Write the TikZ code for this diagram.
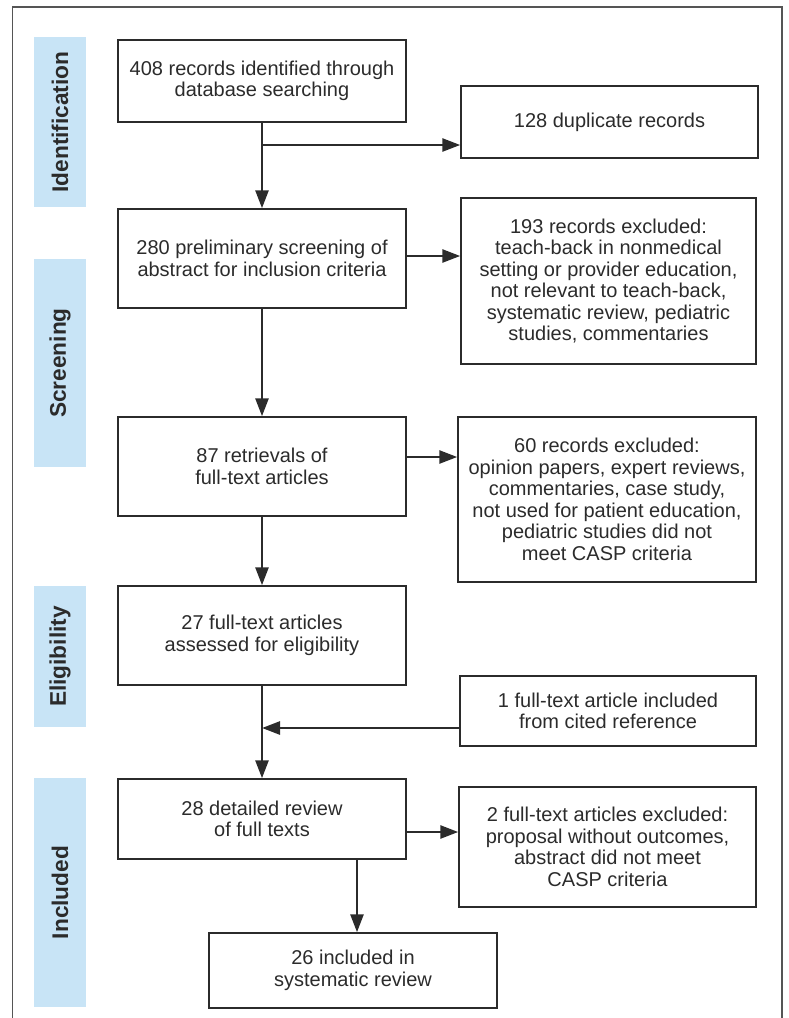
\documentclass[tikz,border=0pt]{standalone}
\usepackage{fontspec}
\setmainfont{Liberation Sans}
\usetikzlibrary{arrows.meta,calc}
\definecolor{ink}{HTML}{2B2B2B}
\definecolor{bandc}{HTML}{C8E4F6}
\definecolor{framec}{HTML}{555555}
\begin{document}
\begin{tikzpicture}[x=0.75pt,y=-0.75pt,
  box/.style={draw=ink,line width=1.1pt,align=center,inner sep=0pt,text=ink,
    font=\fontsize{15}{16.1}\selectfont},
  band/.style={fill=bandc,rotate=90,inner sep=0pt,minimum height=39pt,text=ink,
    font=\fontsize{17}{20}\selectfont\bfseries},
  arr/.style={draw=ink,line width=2pt,-{Triangle[length=13.5pt,width=9.75pt]}},
  ln/.style={draw=ink,line width=2pt}]
\useasboundingbox (0,0) rectangle (789,1018);
\draw[framec,line width=1pt] (12.5,1018) -- (12.5,7) -- (782,7) -- (782,1018);

% side bands
\node[band,minimum width=127.5pt] (lid) at (60,122) {Identification};
\node[band,minimum width=156pt] (lsc) at (60,363) {Screening};
\node[band,minimum width=105.75pt] (lel) at (60,656.5) {Eligibility};
\node[band,minimum width=171.75pt] (lin) at (60,892.5) {Included};

% main column
\node[box,minimum width=216pt,minimum height=61.5pt] (b1) at (262,81) {408 records identified through\\database searching};
\node[box,minimum width=216pt,minimum height=74.25pt] (b2) at (262,258.5) {280 preliminary screening of\\abstract for inclusion criteria};
\node[box,minimum width=216pt,minimum height=74.25pt] (b3) at (262,466.5) {87 retrievals of\\full-text articles};
\node[box,minimum width=216pt,minimum height=74.25pt] (b4) at (262,635.5) {27 full-text articles\\assessed for eligibility};
\node[box,minimum width=216pt,minimum height=60pt] (b5) at (262,819) {28 detailed review\\of full texts};
\node[box,minimum width=216pt,minimum height=56.25pt] (b6) at (353,970.5) {26 included in\\systematic review};

% side column
\node[box,minimum width=222.75pt,minimum height=54pt] (dup) at (609.5,122) {128 duplicate records};
\node[box,minimum width=221.25pt,minimum height=124.5pt] (e1) at (608.5,281) {193 records excluded:\\teach-back in nonmedical\\setting or provider education,\\not relevant to teach-back,\\systematic review, pediatric\\studies, commentaries};
\node[box,minimum width=223.5pt,minimum height=123.75pt] (e2) at (607,499.5) {60 records excluded:\\opinion papers, expert reviews,\\commentaries, case study,\\not used for patient education,\\pediatric studies did not\\meet CASP criteria};
\node[box,minimum width=222pt,minimum height=52.5pt] (inc) at (608,711) {1 full-text article included\\from cited reference};
\node[box,minimum width=222.75pt,minimum height=90pt] (e3) at (607.5,847) {2 full-text articles excluded:\\proposal without outcomes,\\abstract did not meet\\CASP criteria};

% helper coordinates
\coordinate (j1) at (262,145);
\coordinate (y2) at (0,256);
\coordinate (y3) at (0,457);
\coordinate (j4) at (262,728);
\coordinate (y5) at (0,832);
\coordinate (x6) at (357,0);

% connectors
\draw[arr] (b1) -- (b2);
\draw[ln] (j1) -- (j1 -| b1.south);
\draw[arr] (j1) -- (j1 -| dup.west);
\draw[arr] (b2.east |- y2) -- (e1.west |- y2);
\draw[arr] (b2) -- (b3);
\draw[arr] (b3.east |- y3) -- (e2.west |- y3);
\draw[arr] (b3) -- (b4);
\draw[arr] (b4) -- (b5);
\draw[arr] (inc.west |- j4) -- (j4);
\draw[arr] (b5.east |- y5) -- (e3.west |- y5);
\draw[arr] (b5.south -| x6) -- (b6.north -| x6);
\end{tikzpicture}
\end{document}
